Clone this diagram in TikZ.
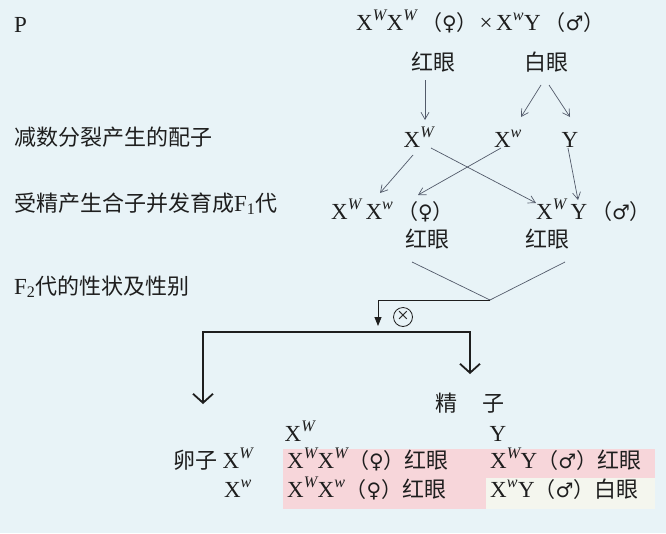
\documentclass[tikz,border=0pt]{standalone}
\usepackage{fontspec}
\setmainfont{Liberation Serif}
\newfontfamily\cjk{Noto Sans CJK SC}
\newfontfamily\sym{DejaVu Sans}
\usepackage{tikz}
\usetikzlibrary{arrows.meta}

\definecolor{bgblue}{HTML}{E8F3F7}
\definecolor{cellpink}{HTML}{F7D6DA}
\definecolor{cellpale}{HTML}{F4F6EE}
\definecolor{arrowgray}{HTML}{525A6A}
\definecolor{ink}{HTML}{1E1E1E}

\newcommand{\Xg}[1]{X\textsuperscript{\itshape #1}}
\newcommand{\fem}{{\cjk\fontsize{21}{25}\selectfont （}{\sym\fontsize{20}{22}\selectfont ♀}{\cjk\fontsize{21}{25}\selectfont ）}}
\newcommand{\mal}{{\cjk\fontsize{21}{25}\selectfont （}{\sym\fontsize{20}{22}\selectfont ♂}{\cjk\fontsize{21}{25}\selectfont ）}}

\tikzset{
  lbl/.style={inner sep=0pt, text height=15pt, text depth=3pt, text=ink,
    font=\fontsize{23}{26}\selectfont},
  zh/.style={lbl, font=\fontsize{22}{26}\selectfont\cjk},
  thin arrow/.style={draw=arrowgray, line width=0.7pt,
    -{Straight Barb[length=7pt,width=8pt]}},
  big arrow/.style={draw=ink, line width=1.8pt,
    {Straight Barb[length=9pt,width=20pt]}-{Straight Barb[length=9pt,width=20pt]}}
}

\begin{document}
\begin{tikzpicture}[x=1pt, y=-1pt]
\useasboundingbox (0,0) rectangle (666,533);
\fill[bgblue] (0,0) rectangle (666,533);

% row labels
\node[lbl, anchor=west] (gen) at (14,26) {P};
\node[zh, anchor=west] (meio) at (14,139) {减数分裂产生的配子};
\node[zh, anchor=west] (fert) at (14,205) {受精产生合子并发育成{\rmfamily\fontsize{23}{26}\selectfont F\textsubscript{1}}代};
\node[zh, anchor=west] (f2) at (14,288) {{\rmfamily\fontsize{23}{26}\selectfont F\textsubscript{2}}代的性状及性别};

% parents
\node[lbl, anchor=west] (pf) at (356,24) {\Xg{W}\Xg{W}\,\fem};
\node[lbl] (cross) at (486,24) {×};
\node[lbl, anchor=west] (pm) at (496,24) {\Xg{w}Y\,\mal};
\node[zh] (pred) at (433,64) {红眼};
\node[zh] (pwhite) at (546,64) {白眼};

% gametes
\node[lbl] (gW) at (419,141) {\Xg{W}};
\node[lbl] (gw) at (508,141) {\Xg{w}};
\node[lbl] (gY) at (570,141) {Y};

% F1
\node[lbl, anchor=west] (f1f) at (331,213) {\Xg{W}\,\Xg{w}\,\fem};
\node[lbl, anchor=west] (f1m) at (536,213) {\Xg{W}\,Y\,\mal};
\node[zh] (f1fr) at (427,241) {红眼};
\node[zh] (f1mr) at (547,241) {红眼};

\draw[thin arrow] ([shift={(-8,16)}]pred.center) -- ([shift={(6,-21)}]gW.center);
\draw[thin arrow] ([shift={(-5,21)}]pwhite.center) -- ([shift={(13,-24)}]gw.center);
\draw[thin arrow] ([shift={(3,21)}]pwhite.center) -- ([shift={(0,-24)}]gY.center);
\draw[thin arrow] ([shift={(-6,14)}]gW.center) -- ([shift={(49,-20)}]f1f.west);
\draw[thin arrow] ([shift={(12,7)}]gW.center) -- ([shift={(0,-10)}]f1m.west);
\draw[thin arrow] ([shift={(-7,7)}]gw.center) -- ([shift={(87,-18)}]f1f.west);
\draw[thin arrow] ([shift={(-2,7)}]gY.center) -- ([shift={(42,-13)}]f1m.west);

% selfing
\coordinate (jn) at (490,300);
\coordinate (bar) at (300,332);
\node[circle, draw=ink, line width=0.8pt, inner sep=0pt, minimum size=19pt,
  text=ink, font=\fontsize{21}{21}\selectfont] (selfx) at (403,317) {×};
\draw[arrowgray, line width=0.7pt] ([shift={(-15,21)}]f1fr.center) -- (jn)
  -- ([shift={(18,21)}]f1mr.center);
\draw[ink, line width=0.8pt, -{Triangle[length=9pt,width=7pt]}] (jn)
  -| ([shift={(-25,9)}]selfx.center);

% F2 table
\node[zh] (sperm) at (470,405) {精\hspace{25pt}子};
\node[zh] (egg) at (195,462) {卵子};
\coordinate (eggtip) at ([shift={(8,-58)}]egg.center);
\coordinate (spermtip) at ([shift={(0,-31)}]sperm.center);
\draw[big arrow] (eggtip) -- (eggtip |- bar) -- (spermtip |- bar) -- (spermtip);

\fill[cellpink] (283,449) rectangle (655,478);
\fill[cellpink] (283,478) rectangle (486,509);
\fill[cellpale] (486,478) rectangle (655,509);

\node[lbl] (sW) at (300,435) {\Xg{W}};
\node[lbl] (sY) at (498,435) {Y};
\node[lbl] (eW) at (238,462) {\Xg{W}};
\node[lbl] (ew) at (238,491) {\Xg{w}};

\node[lbl, anchor=west] (c11) at (287,462) {\Xg{W}\Xg{W}\fem{\cjk\fontsize{22}{26}\selectfont 红眼}};
\node[lbl, anchor=west] (c12) at (490,462) {\Xg{W}Y\mal{\cjk\fontsize{22}{26}\selectfont 红眼}};
\node[lbl, anchor=west] (c21) at (287,491) {\Xg{W}\Xg{w}\fem{\cjk\fontsize{22}{26}\selectfont 红眼}};
\node[lbl, anchor=west] (c22) at (490,491) {\Xg{w}Y\mal{\cjk\fontsize{22}{26}\selectfont 白眼}};
\end{tikzpicture}
\end{document}
